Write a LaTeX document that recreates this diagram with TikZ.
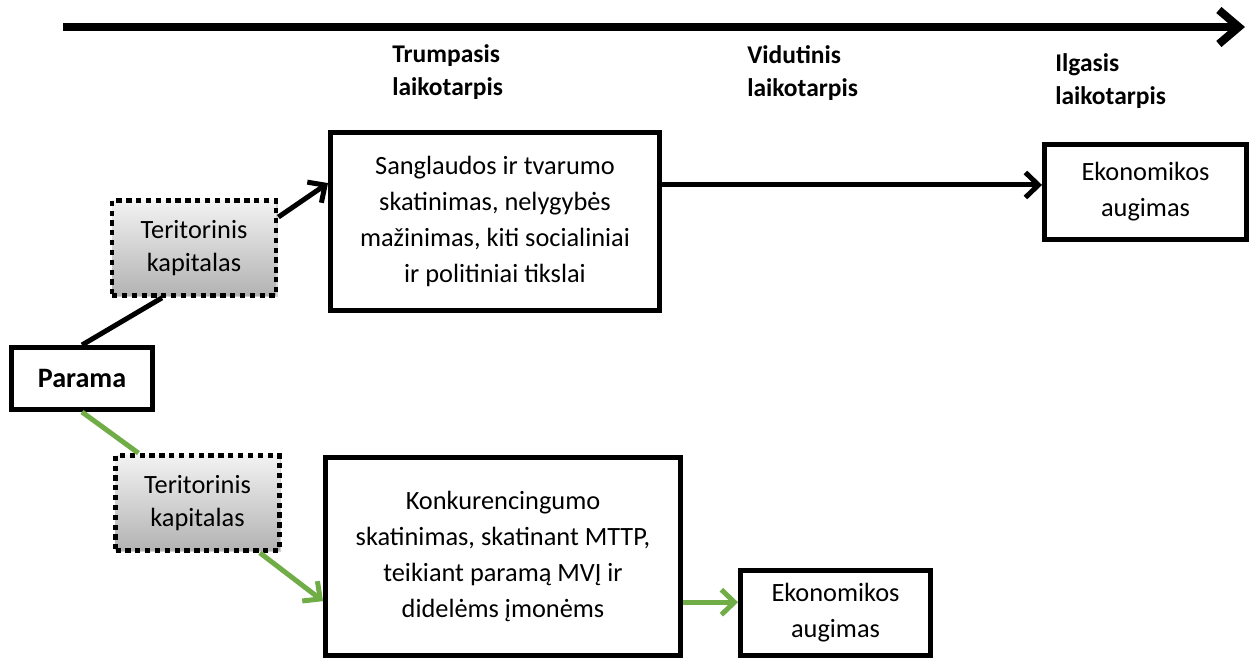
\documentclass[tikz,border=0pt]{standalone}
\usepackage{fontspec}
\setmainfont{Carlito}
\usetikzlibrary{positioning,calc,arrows.meta,shadows}
\definecolor{leafgreen}{RGB}{112,173,71}
\newcommand\boxfont{\fontsize{15}{20.5}\selectfont}
\newcommand\periodfont{\fontsize{14.5}{18.7}\selectfont\bfseries}

\begin{document}
\begin{tikzpicture}[x=0.02cm,y=-0.02cm,
    box/.style={draw,line width=0.1cm,align=center,inner sep=0pt,font=\boxfont},
    capital/.style={draw,line width=0.095cm,dash pattern=on 3pt off 2.6pt,align=center,inner sep=0pt,
        font=\fontsize{15}{18.5}\selectfont,top color=black!5,bottom color=black!30,
        drop shadow={shadow xshift=0.4mm,shadow yshift=-0.4mm,opacity=0.35},
        minimum width=3.28cm,minimum height=1.9cm},
    period/.style={anchor=north west,align=left,inner sep=0pt,font=\periodfont},
    link/.style={line width=0.1cm,-{Straight Barb[length=2.6mm,width=5mm]}},
    plain/.style={line width=0.1cm},
    greenlink/.style={link,leafgreen},
    greenplain/.style={plain,leafgreen}]
    \useasboundingbox (0,0) rectangle (1251,661);
    % time axis
    \coordinate (t0) at (63,27);
    \coordinate (t1) at (1245,27);
    \draw[line width=0.16cm,-{Straight Barb[length=4mm,width=6.8mm]}] (t0) -- (t1);
    \node[period] (short) at (392,44) {Trumpasis\\laikotarpis};
    \node[period] (medium) at (747,45) {Vidutinis\\laikotarpis};
    \node[period] (long) at (1055,53) {Ilgasis\\laikotarpis};
    % boxes
    \node[box,minimum width=2.82cm,minimum height=1.24cm,font=\fontsize{16}{19}\selectfont\bfseries] (parama) at (82,378.5) {Parama};
    \node[capital] (ter1) at (194,248) {Teritorinis\\kapitalas};
    \node[capital] (ter2) at (197.5,503) {Teritorinis\\kapitalas};
    \node[box,minimum width=6.58cm,minimum height=3.56cm] (sang) at (495,221.5)
        {Sanglaudos ir tvarumo\\skatinimas, nelygybės\\mažinimas, kiti socialiniai\\ir politiniai tikslai};
    \node[box,minimum width=7.1cm,minimum height=3.96cm] (konk) at (503,556.5)
        {Konkurencingumo\\skatinimas, skatinant MTTP,\\teikiant paramą MVĮ ir\\didelėms įmonėms};
    \node[box,minimum width=4.04cm,minimum height=1.9cm] (ekon1) at (1145.5,192) {Ekonomikos\\augimas};
    \node[box,minimum width=3.8cm,minimum height=1.7cm] (ekon2) at (835.5,613) {Ekonomikos\\augimas};
    % upper path
    \draw[plain] (parama.north) -- ($(ter1.south west)!0.31!(ter1.south east)$);
    \draw[link] ($(ter1.north east)!0.19!(ter1.south east)$) -- ($(sang.north west)!0.29!(sang.south west)$);
    \coordinate (e1) at ($(ekon1.north west)!0.43!(ekon1.south west)$);
    \draw[link] (sang.east |- e1) -- (e1);
    % lower path
    \draw[greenplain] (parama.south) -- ($(ter2.north west)!0.15!(ter2.north east)$);
    \draw[greenlink] ($(ter2.south west)!0.87!(ter2.south east)$) -- ($(konk.north west)!0.72!(konk.south west)$);
    \coordinate (e2) at ($(ekon2.north west)!0.38!(ekon2.south west)$);
    \draw[greenlink] (konk.east |- e2) -- (e2);
\end{tikzpicture}
\end{document}
